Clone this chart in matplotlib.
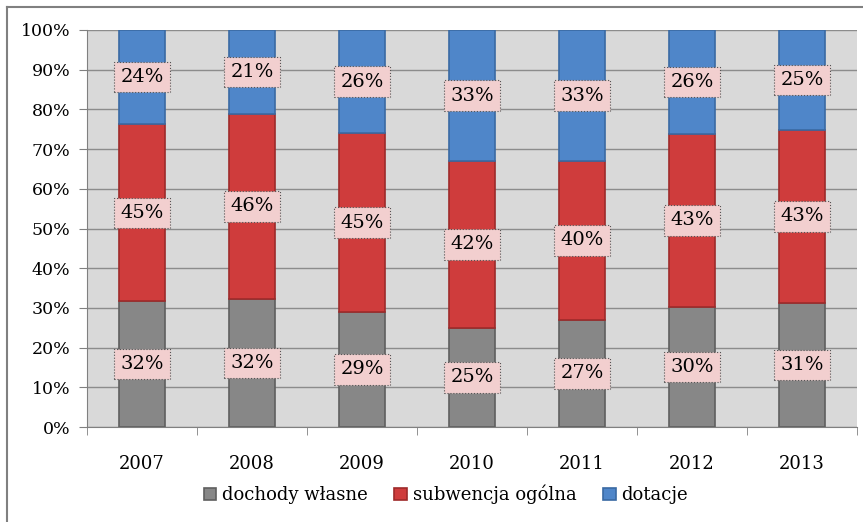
import numpy as np
import matplotlib.pyplot as plt
from matplotlib.lines import Line2D

plt.rcParams['font.family'] = ['DejaVu Serif']

years = ['2007', '2008', '2009', '2010', '2011', '2012', '2013']
dochody = [32, 32, 29, 25, 27, 30, 31]
subwencja = [45, 46, 45, 42, 40, 43, 43]
dotacje = [24, 21, 26, 33, 33, 26, 25]
series_names = ['dochody własne', 'subwencja ogólna', 'dotacje']

series = [dochody, subwencja, dotacje]
colors = ['#878787', '#cf3c3c', '#4f86c9']
edges = ['#5f5f5f', '#9e2a2a', '#3a6aa3']

fig = plt.figure(figsize=(8.63, 5.22), dpi=100)
fig.patch.set_facecolor('white')

# outer chart frame (cut off at right / bottom)
fig.add_artist(Line2D([7/863, 7/863], [0, 1 - 7/522], color='#808080', lw=1.5,
                      transform=fig.transFigure))
fig.add_artist(Line2D([7/863, 1], [1 - 7/522, 1 - 7/522], color='#808080', lw=1.5,
                      transform=fig.transFigure))

ax = fig.add_axes([87/863, 95/522, 770/863, 397/522])
ax.set_facecolor('#d9d9d9')

x = np.arange(len(years))
totals = np.sum(series, axis=0)
bottom = np.zeros(len(years))
for vals, c, ec, name in zip(series, colors, edges, series_names):
    h = np.array(vals) / totals * 100
    ax.bar(x, h, 0.41, bottom=bottom, color=c, edgecolor=ec, linewidth=1.2,
           label=name, zorder=3)
    for xi, bi, hi, v in zip(x, bottom, h, vals):
        ax.text(xi, bi + hi / 2, f'{v}%', ha='center', va='center', fontsize=14,
                color='black', zorder=5,
                bbox=dict(boxstyle='square,pad=0.32', facecolor='#f2cfcf',
                          edgecolor='#555555', linestyle=':', linewidth=0.8))
    bottom += h

ax.set_xlim(-0.5, len(years) - 0.5)
ax.set_ylim(0, 100)
ax.set_yticks(np.arange(0, 101, 10))
ax.set_yticklabels([f'{v}%' for v in range(0, 101, 10)], fontsize=12.5)
ax.set_xticks(x)
ax.set_xticklabels(years, fontsize=13)
ax.set_xticks(np.arange(-0.5, len(years), 1), minor=True)
ax.tick_params(axis='x', which='major', length=0, pad=20)
ax.tick_params(axis='x', which='minor', length=6, color='#808080')
ax.tick_params(axis='y', length=6, color='#808080', pad=6)
ax.grid(axis='y', color='#8c8c8c', linewidth=1.0, zorder=0)
for s in ['top', 'right']:
    ax.spines[s].set_visible(False)
for s in ['left', 'bottom']:
    ax.spines[s].set_color('#808080')

leg = ax.legend(loc='upper center', bbox_to_anchor=(0.466, -0.105), ncol=3,
                frameon=False, fontsize=13, handlelength=0.7, handleheight=0.7,
                handletextpad=0.3, columnspacing=1.5)

fig.savefig('out.png', dpi=100)
